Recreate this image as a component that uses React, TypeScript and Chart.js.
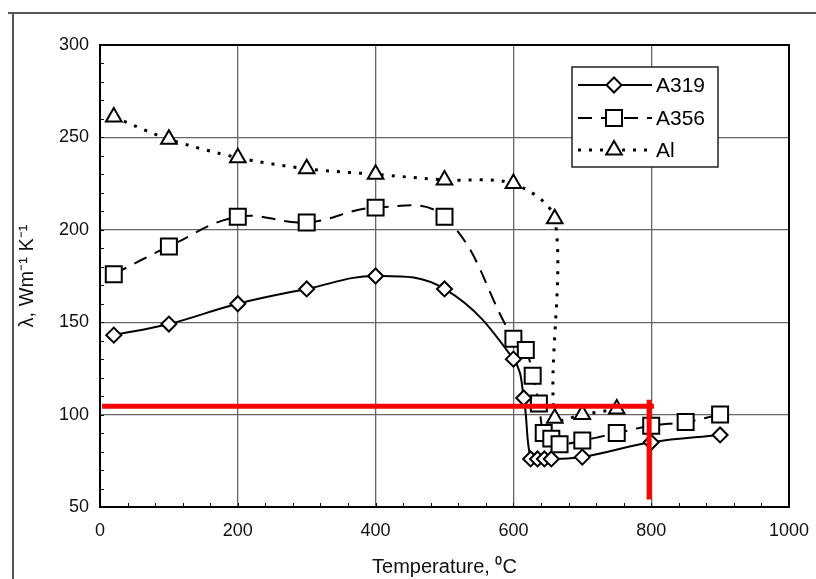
import { useEffect, useRef } from 'react';
import { Chart, registerables } from 'chart.js';

Chart.register(...registerables);

// ---- data ----
const tempA319 = [20, 100, 200, 300, 400, 500, 600, 615, 625, 635, 645, 655, 700, 800, 900];
const lambdaA319 = [143, 149, 160, 168, 175, 168, 130, 109, 76, 76, 76, 76, 77, 85, 89];

const tempA356 = [20, 100, 200, 300, 400, 500, 600, 618, 628, 637, 644, 655, 667, 700, 750, 800, 850, 900];
const lambdaA356 = [176, 191, 207, 204, 212, 207, 141, 135, 121, 106, 90, 87, 84, 86, 90, 94, 96, 100];

const tempAl = [20, 100, 200, 300, 400, 500, 600, 660, 660, 700, 750];
const lambdaAl = [261, 249, 239, 233, 230, 227, 225, 206, 98, 100, 103];

// red annotation lines on the scan
const redHorizontalT = [3, 804];
const redHorizontalL = [104.5, 104.5];
const redVerticalT = [797, 797];
const redVerticalL = [108, 54];

const xTicks = [0, 200, 400, 600, 800, 1000];
const yTicks = [50, 100, 150, 200, 250, 300];
const seriesNames = ['A319', 'A356', 'Al'];

const FONT = "'Liberation Sans', Arial, sans-serif";

function pts(xs: number[], ys: number[]) {
  return xs.map((x, i) => ({ x, y: ys[i] }));
}

function drawMarker(ctx: CanvasRenderingContext2D, kind: string, x: number, y: number) {
  ctx.save();
  ctx.setLineDash([]);
  ctx.fillStyle = '#fff';
  ctx.strokeStyle = '#000';
  ctx.lineWidth = 2;
  ctx.beginPath();
  if (kind === 'diamond') {
    const r = 7.5;
    ctx.moveTo(x, y - r);
    ctx.lineTo(x + r, y);
    ctx.lineTo(x, y + r);
    ctx.lineTo(x - r, y);
    ctx.closePath();
  } else if (kind === 'square') {
    const h = 8;
    ctx.rect(x - h, y - h, 2 * h, 2 * h);
  } else {
    const r = 9;
    ctx.moveTo(x, y - r);
    ctx.lineTo(x + r * 0.866, y + r / 2);
    ctx.lineTo(x - r * 0.866, y + r / 2);
    ctx.closePath();
  }
  ctx.fill();
  ctx.stroke();
  ctx.restore();
}

const framePlugin = {
  id: 'frame',
  beforeDraw(chart: any) {
    const ctx = chart.ctx as CanvasRenderingContext2D;
    ctx.save();
    ctx.fillStyle = '#fff';
    ctx.fillRect(0, 0, chart.width, chart.height);
    ctx.strokeStyle = '#555';
    ctx.lineWidth = 2;
    ctx.beginPath();
    ctx.moveTo(8, 13);
    ctx.lineTo(chart.width, 13);
    ctx.moveTo(13, 13);
    ctx.lineTo(13, chart.height);
    ctx.stroke();
    ctx.restore();
  },
  beforeDatasetsDraw(chart: any) {
    const ctx = chart.ctx as CanvasRenderingContext2D;
    const { left, right, top, bottom } = chart.chartArea;
    const xs = chart.scales.x;
    const ys = chart.scales.y;
    ctx.save();
    ctx.strokeStyle = '#111';
    ctx.lineWidth = 1;
    ctx.beginPath();
    for (let v = 0; v <= 1000; v += 40) {
      const px = Math.round(xs.getPixelForValue(v)) + 0.5;
      ctx.moveTo(px, bottom);
      ctx.lineTo(px, bottom - 4);
    }
    for (let v = 50; v <= 300; v += 10) {
      const py = Math.round(ys.getPixelForValue(v)) + 0.5;
      ctx.moveTo(left, py);
      ctx.lineTo(left + 4, py);
    }
    ctx.stroke();
    ctx.strokeStyle = '#000';
    ctx.lineWidth = 2;
    ctx.strokeRect(left, top, right - left, bottom - top);
    ctx.restore();
  },
  afterDraw(chart: any) {
    const ctx = chart.ctx as CanvasRenderingContext2D;
    const bx = 572, by = 67, bw = 146, bh = 100;
    ctx.save();
    ctx.fillStyle = '#fff';
    ctx.fillRect(bx, by, bw, bh);
    ctx.strokeStyle = '#222';
    ctx.lineWidth = 1.5;
    ctx.strokeRect(bx, by, bw, bh);
    const rows = [85, 118, 150];
    const kinds = ['diamond', 'square', 'triangle'];
    const dashes = [[], [14, 9], [3, 8]];
    rows.forEach((ry, i) => {
      ctx.save();
      ctx.strokeStyle = '#000';
      ctx.lineWidth = i === 2 ? 3 : 2;
      ctx.setLineDash(dashes[i]);
      ctx.beginPath();
      ctx.moveTo(578, ry);
      ctx.lineTo(652, ry);
      ctx.stroke();
      ctx.restore();
      drawMarker(ctx, kinds[i], 614, ry);
      ctx.fillStyle = '#000';
      ctx.font = `21px ${FONT}`;
      ctx.textBaseline = 'middle';
      ctx.textAlign = 'left';
      ctx.fillText(seriesNames[i], 656, ry + 1);
    });
    ctx.restore();
  },
};

export default function App() {
  const ref = useRef<HTMLCanvasElement | null>(null);

  useEffect(() => {
    if (!ref.current) return;
    const chart = new Chart(ref.current, {
      type: 'line',
      data: {
        datasets: [
          {
            label: 'red-h',
            data: pts(redHorizontalT, redHorizontalL),
            borderColor: '#ff0000',
            borderWidth: 5,
            pointRadius: 0,
            tension: 0,
            order: -1,
          },
          {
            label: 'red-v',
            data: pts(redVerticalT, redVerticalL),
            borderColor: '#ff0000',
            borderWidth: 5,
            pointRadius: 0,
            tension: 0,
            order: -1,
          },
          {
            label: seriesNames[0],
            data: pts(tempA319, lambdaA319),
            borderColor: '#000',
            borderWidth: 2,
            tension: 0.4,
            pointStyle: 'rectRot',
            pointRadius: 7.5,
            pointBackgroundColor: '#fff',
            pointBorderColor: '#000',
            pointBorderWidth: 2,
          },
          {
            label: seriesNames[1],
            data: pts(tempA356, lambdaA356),
            borderColor: '#000',
            borderWidth: 2,
            borderDash: [14, 9],
            tension: 0.4,
            pointStyle: 'rect',
            pointRadius: 11.3,
            pointBackgroundColor: '#fff',
            pointBorderColor: '#000',
            pointBorderWidth: 2,
          },
          {
            label: seriesNames[2],
            data: pts(tempAl, lambdaAl),
            borderColor: '#000',
            borderWidth: 3,
            borderDash: [3, 8],
            tension: 0.3,
            pointStyle: 'triangle',
            pointRadius: 9,
            pointBackgroundColor: '#fff',
            pointBorderColor: '#000',
            pointBorderWidth: 2,
          },
        ],
      },
      options: {
        animation: false,
        responsive: false,
        devicePixelRatio: 1,
        layout: { padding: { left: 0, right: 27, top: 45, bottom: 0 } },
        plugins: {
          legend: { display: false },
          tooltip: { enabled: false },
        },
        scales: {
          x: {
            type: 'linear',
            min: 0,
            max: 1000,
            afterBuildTicks: (s: any) => {
              s.ticks = xTicks.map((v) => ({ value: v }));
            },
            afterFit: (s: any) => {
              s.height = 72;
              s.paddingRight = 0;
            },
            grid: { color: '#666', lineWidth: 1.3, drawTicks: false },
            border: { display: false },
            ticks: {
              padding: 13,
              color: '#111',
              font: { family: FONT, size: 18 },
              maxRotation: 0,
              callback: (v: any) => String(v),
            },
            title: {
              display: true,
              text: 'Temperature, ⁰C',
              color: '#111',
              font: { family: FONT, size: 20 },
              padding: { top: 0, bottom: 0 },
            },
          },
          y: {
            type: 'linear',
            min: 50,
            max: 300,
            afterBuildTicks: (s: any) => {
              s.ticks = yTicks.map((v) => ({ value: v }));
            },
            afterFit: (s: any) => {
              s.width = 100;
            },
            grid: { color: '#666', lineWidth: 1.3, drawTicks: false },
            border: { display: false },
            ticks: {
              padding: 11,
              color: '#111',
              font: { family: FONT, size: 18 },
              callback: (v: any) => String(v),
            },
            title: {
              display: true,
              text: 'λ, Wm⁻¹ K⁻¹',
              color: '#111',
              font: { family: FONT, size: 20 },
              padding: { top: 15, bottom: 0 },
            },
          },
        },
      },
      plugins: [framePlugin],
    });
    return () => chart.destroy();
  }, []);

  return (
    <div style={{ position: 'absolute', left: 0, top: 0, width: 816, height: 579 }}>
      <canvas ref={ref} width={816} height={579} style={{ display: 'block', width: 816, height: 579 }} />
    </div>
  );
}
